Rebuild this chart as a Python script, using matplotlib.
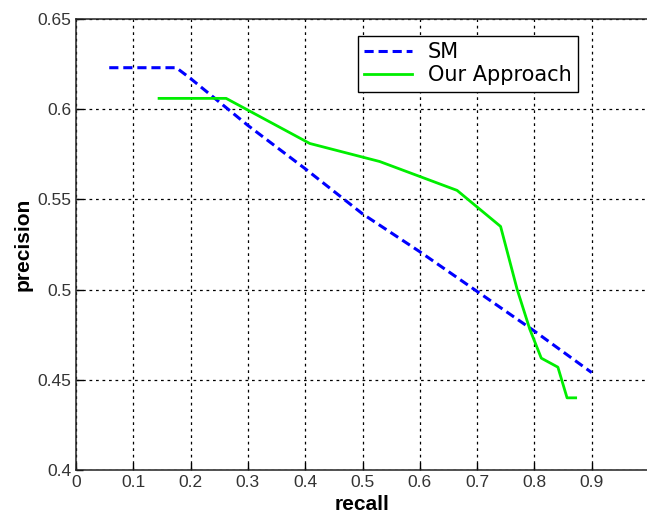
import matplotlib
matplotlib.use("Agg")
import matplotlib.pyplot as plt

plt.rcParams['font.family'] = ['Liberation Sans', 'DejaVu Sans']

# Data
sm_recall = [0.058, 0.175, 0.20, 0.25, 0.30, 0.40, 0.50, 0.60, 0.70, 0.80, 0.90]
sm_precision = [0.623, 0.623, 0.617, 0.604, 0.591, 0.567, 0.542, 0.521, 0.499, 0.477, 0.454]

our_recall = [0.145, 0.262, 0.408, 0.53, 0.665, 0.741, 0.77, 0.792, 0.812, 0.841, 0.857, 0.872]
our_precision = [0.606, 0.606, 0.581, 0.571, 0.555, 0.535, 0.500, 0.478, 0.462, 0.457, 0.440, 0.440]

xticks = [0, 0.1, 0.2, 0.3, 0.4, 0.5, 0.6, 0.7, 0.8, 0.9, 1.0]
xticklabels = ['0', '0.1', '0.2', '0.3', '0.4', '0.5', '0.6', '0.7', '0.8', '0.9', '']
yticks = [0.4, 0.45, 0.5, 0.55, 0.6, 0.65]
yticklabels = ['0.4', '0.45', '0.5', '0.55', '0.6', '0.65']

fig = plt.figure(figsize=(6.47, 5.17), dpi=100)
ax = fig.add_axes([76 / 647, 47 / 517, (649 - 76) / 647, (470 - 19) / 517])

ax.plot(sm_recall, sm_precision, color='#0000ff', lw=2.2, dashes=(3, 1.6), label='SM')
ax.plot(our_recall, our_precision, color='#00ee00', lw=2.0, label='Our Approach')

ax.set_xlim(0, 1)
ax.set_ylim(0.4, 0.65)
ax.set_xticks(xticks)
ax.set_xticklabels(xticklabels)
ax.set_yticks(yticks)
ax.set_yticklabels(yticklabels)
ax.tick_params(direction='in', length=5, labelsize=12.5, labelcolor='#333333', width=1)
ax.grid(True, color='black', linestyle=(0, (2.2, 3)), linewidth=0.9)
for s in ax.spines.values():
    s.set_linewidth(1.1)
    s.set_color('#222222')

ax.set_xlabel('recall', fontsize=15, fontweight='bold', labelpad=4)
ax.set_ylabel('precision', fontsize=15, fontweight='bold', labelpad=3)

leg = ax.legend(loc='upper left', bbox_to_anchor=((358 - 76) / 573, 1 - (36 - 19) / 451),
                prop={'family': 'DejaVu Sans', 'size': 15},
                fancybox=False, framealpha=1, edgecolor='black',
                handlelength=2.3, borderpad=0.3, labelspacing=0.15, handletextpad=0.75,
                borderaxespad=0)
leg.get_frame().set_linewidth(1.0)

fig.savefig('out.png', dpi=100)
